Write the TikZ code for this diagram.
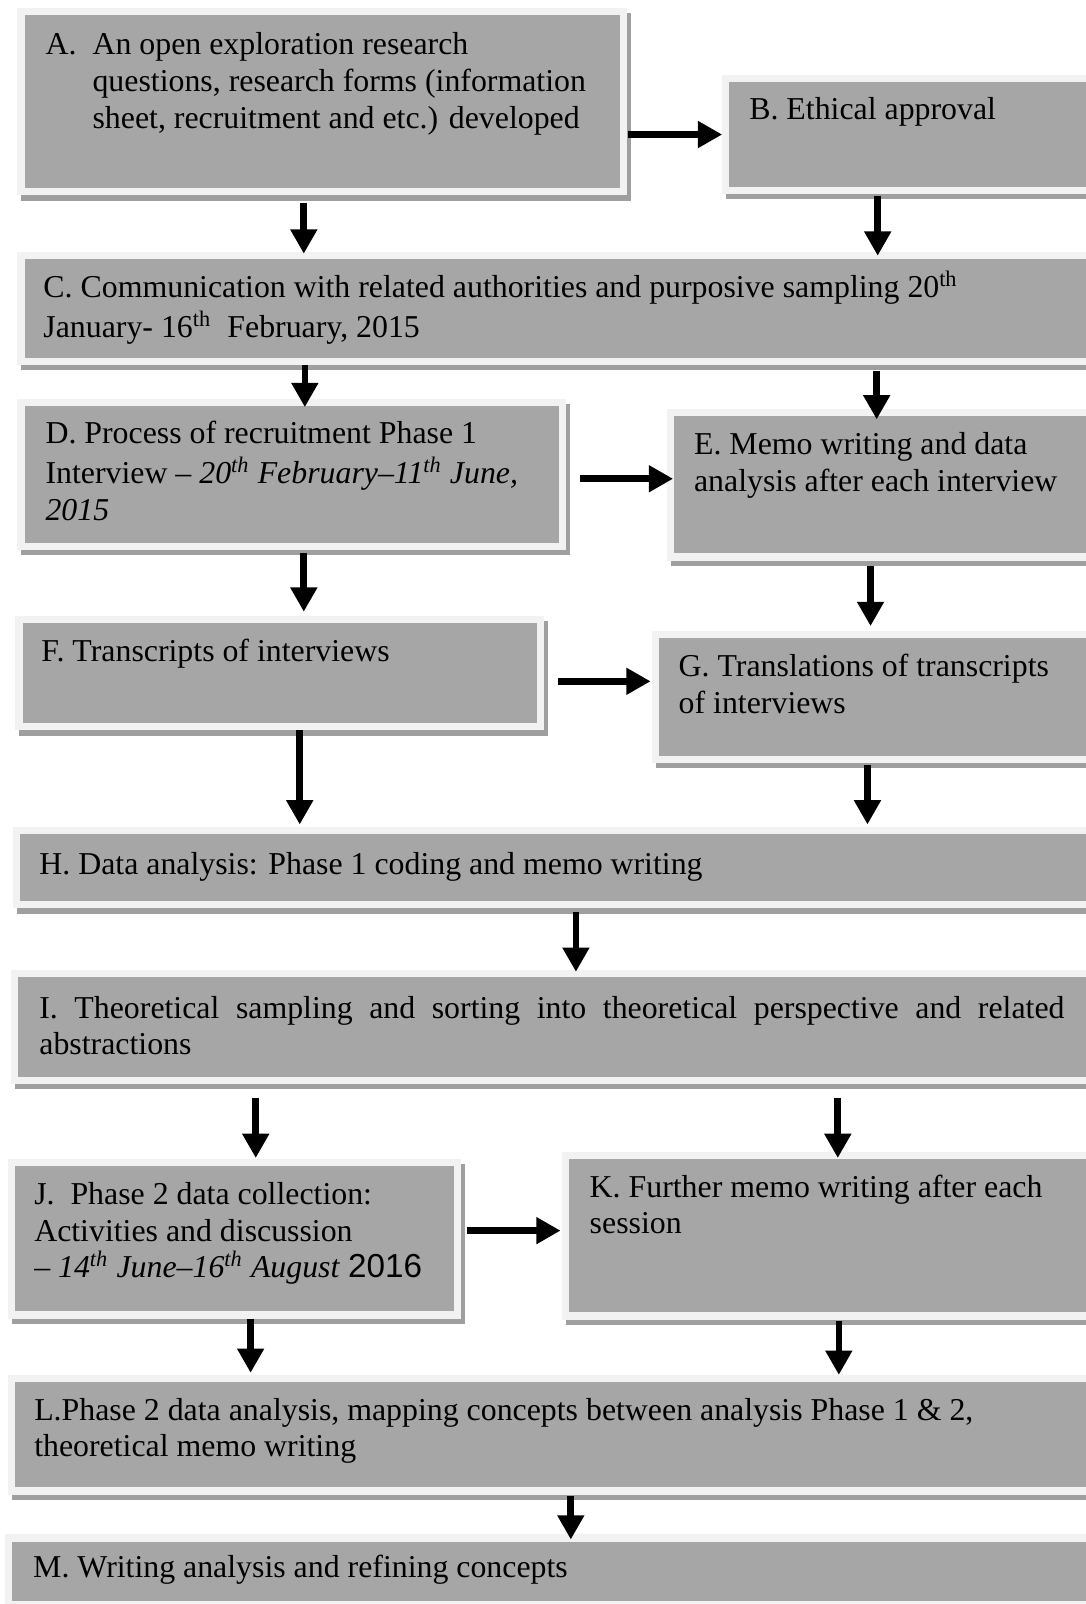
\documentclass[tikz,border=0pt]{standalone}
\usepackage{fontspec}
\setmainfont{Liberation Serif}
\newfontfamily\arialfont{Liberation Sans}
\usetikzlibrary{arrows.meta,fit,calc,backgrounds}
\definecolor{boxgray}{HTML}{A6A6A6}
\definecolor{boxrim}{HTML}{F2F2F2}
\definecolor{boxshade}{HTML}{9F9F9F}

\begin{document}
\begin{tikzpicture}[x=0.4pt,y=-0.4pt,
  stepbox/.style={rectangle, fill=boxgray, draw=boxrim, line width=2.8pt, inner sep=0pt},
  steptext/.style={anchor=north west, inner sep=0pt, align=left,
    font=\fontsize{12.45}{14.4}\selectfont},
  flow/.style={line width=2.6pt, -{Triangle[length=9.5pt,width=10pt]}}]
\useasboundingbox (0,0) rectangle (1061,1568);

% boxes (path runs along the middle of the light rim)
\node[stepbox, fit={(20.5,11.5) (609.5,187.5)}]   (A) {};
\node[stepbox, fit={(709.5,76.5) (1071.5,186.5)}] (B) {};
\node[stepbox, fit={(20.5,249.5) (1071.5,353.5)}] (C) {};
\node[stepbox, fit={(20.5,393.5) (549.5,534.5)}]  (D) {};
\node[stepbox, fit={(655.5,403.5) (1071.5,544.5)}] (E) {};
\node[stepbox, fit={(18.5,605.5) (528.5,710.5)}]  (F) {};
\node[stepbox, fit={(640.5,620.5) (1071.5,742.5)}] (G) {};
\node[stepbox, fit={(16.5,811.5) (1071.5,884.5)}] (H) {};
\node[stepbox, fit={(14.5,951.5) (1071.5,1056.5)}] (I) {};
\node[stepbox, fit={(11.5,1136.5) (447.5,1285.5)}] (J) {};
\node[stepbox, fit={(552.5,1129.5) (1071.5,1286.5)}] (K) {};
\node[stepbox, fit={(11.5,1347.5) (1071.5,1457.5)}] (L) {};
\node[stepbox, fit={(8.5,1503.5) (1071.5,1568.5)}] (M) {};

% drop shadows behind the boxes
\begin{pgfonlayer}{background}
\foreach \n in {A,B,C,D,E,F,G,H,I,J,K,L,M}
  \fill[boxshade] ([shift={(1.6pt,-2pt)}]\n.south west) rectangle ([shift={(1.6pt,-2pt)}]\n.north east);
\end{pgfonlayer}

% texts
\node[steptext] (tA) at (44,27.5) {\strut\makebox[18.4pt][l]{A.}An open exploration research\\
  \hspace*{18.4pt}questions, research forms (information\\
  \hspace*{18.4pt}sheet, recruitment and etc.) developed};
\node[steptext] (tB) at (732,91.5) {\strut B. Ethical approval};
\node[steptext] (tC) at (42,264.5) {\strut C. Communication with related authorities and purposive sampling 20\textsuperscript{th}\\
  January- 16\textsuperscript{th}\ \ February, 2015};
\node[steptext] (tD) at (44,407.5) {\strut D. Process of recruitment Phase 1\\
  Interview -- \textit{20\textsuperscript{th} February--11\textsuperscript{th} June,}\\
  \textit{2015}};
\node[steptext] (tE) at (678,418.5) {\strut E. Memo writing and data\\
  analysis after each interview};
\node[steptext] (tF) at (40,620.5) {\strut F. Transcripts of interviews};
\node[steptext] (tG) at (663,635.5) {\strut G. Translations of transcripts\\
  of interviews};
\node[steptext] (tH) at (38,829.5) {\strut H. Data analysis: Phase 1 coding and memo writing};
\node[steptext] (tI) at (38,969.5) {\strut\makebox[400.8pt][s]{I. Theoretical sampling and sorting into theoretical perspective and related}\\
  abstractions};
\node[steptext] (tJ) at (33,1151.5) {\strut J.\ \ Phase 2 data collection:\\
  Activities and discussion\\
  -- \textit{14\textsuperscript{th} June--16\textsuperscript{th} August} {\arialfont\fontsize{13}{14.4}\selectfont 2016}};
\node[steptext] (tK) at (576,1144.5) {\strut K. Further memo writing after each\\
  session};
\node[steptext] (tL) at (33,1362.5) {\strut L.Phase 2 data analysis, mapping concepts between analysis Phase 1 \& 2,\\
  theoretical memo writing};
\node[steptext] (tM) at (32,1516.5) {\strut M. Writing analysis and refining concepts};

% arrow positions
\coordinate (c1) at (297,0);
\coordinate (c2) at (858,0);
\coordinate (c3) at (298,0);
\coordinate (c4) at (857,0);
\coordinate (c5) at (0,468);
\coordinate (c6) at (297,0);
\coordinate (c7) at (851,0);
\coordinate (c8) at (0,666);
\coordinate (c9) at (293,0);
\coordinate (c10) at (848,0);
\coordinate (c11) at (563,0);
\coordinate (c12) at (250,0);
\coordinate (c13) at (819,0);
\coordinate (c14) at (0,1203);
\coordinate (c15) at (245,0);
\coordinate (c16) at (820,0);
\coordinate (c17) at (558,0);

% connectors
\draw[flow] ($(A.south -| c1)+(0,7)$) -- ($(C.north -| c1)+(0,2)$);
\draw[flow] ($(B.south -| c2)+(0,2)$) -- ($(C.north -| c2)+(0,4)$);
\draw[flow] (C.south -| c3) -- ($(D.north -| c3)+(0,8)$);
\draw[flow] ($(C.south -| c4)+(0,6)$) -- ($(E.north -| c4)+(0,10)$);
\draw[flow] ($(D.east |- c5)+(14,0)$) -- ($(E.west |- c5)+(6,0)$);
\draw[flow] ($(A.east |- B.center)+(1,0)$) -- (B.west |- B.center);
\draw[flow] ($(D.south -| c6)+(0,3)$) -- ($(F.north -| c6)+(0,-4)$);
\draw[flow] ($(E.south -| c7)+(0,5)$) -- ($(G.north -| c7)+(0,-5)$);
\draw[flow] ($(F.east |- c8)+(13,0)$) -- ($(G.west |- c8)+(-1,0)$);
\draw[flow] (F.south -| c9) -- ($(H.north -| c9)+(0,-2)$);
\draw[flow] ($(G.south -| c10)+(0,2)$) -- ($(H.north -| c10)+(0,-2)$);
\draw[flow] ($(H.south -| c11)+(0,4)$) -- ($(I.north -| c11)+(0,2)$);
\draw[flow] ($(I.south -| c12)+(0,13)$) -- ($(J.north -| c12)+(0,-1)$);
\draw[flow] ($(I.south -| c13)+(0,13)$) -- ($(K.north -| c13)+(0,6)$);
\draw[flow] ($(J.east |- c14)+(6,0)$) -- ($(K.west |- c14)+(-1,0)$);
\draw[flow] (J.south -| c15) -- ($(L.north -| c15)+(0,-2)$);
\draw[flow] ($(K.south -| c16)+(0,1)$) -- (L.north -| c16);
\draw[flow] ($(L.south -| c17)+(0,1)$) -- ($(M.north -| c17)+(0,5)$);
\end{tikzpicture}
\end{document}
